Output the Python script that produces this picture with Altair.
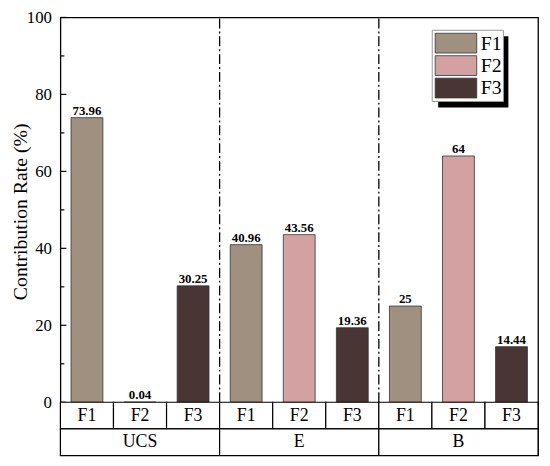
import altair as alt
import pandas as pd

groups = ["UCS", "E", "B"]
factors = ["F1", "F2", "F3"]
values = [73.96, 0.04, 30.25, 40.96, 43.56, 19.36, 25, 64, 14.44]
labels = ["73.96", "0.04", "30.25", "40.96", "43.56", "19.36", "25", "64", "14.44"]
colors = ["#A09080", "#D4A1A3", "#4A3535"]
y_ticks = [0, 20, 40, 60, 80, 100]
y_minor = [10, 30, 50, 70, 90]

FONT = "Liberation Serif"
ROW = 6.92  # height of one row of the category table, in y units

rows = []
for gi, g in enumerate(groups):
    for fi, f in enumerate(factors):
        i = gi * 3 + fi
        rows.append({"group": g, "factor": f, "idx": i, "value": values[i], "label": labels[i]})
df = pd.DataFrame(rows)

xs = alt.Scale(domain=[0, 9], nice=False, zero=False)
ys = alt.Scale(domain=[-2 * ROW, 100], nice=False, zero=False)

base = alt.Chart(df).transform_calculate(x0="datum.idx + 0.2", x1="datum.idx + 0.8")

bars = base.mark_bar(stroke="#333333", strokeWidth=0.8).encode(
    x=alt.X("x0:Q", scale=xs, axis=None),
    x2="x1:Q",
    y=alt.Y("value:Q", scale=ys, axis=alt.Axis(
        values=y_ticks, tickSize=0, domain=False, grid=False,
        labelFont=FONT, labelFontSize=17, labelColor="black", labelPadding=9,
        title="Contribution Rate (%)", titleFont=FONT, titleFontSize=20,
        titleFontWeight="normal", titleColor="black",
        titleX=-34, titleY=196, titleBaseline="alphabetic")),
    y2=alt.datum(0),
    color=alt.Color("factor:N", scale=alt.Scale(domain=factors, range=colors), legend=None),
)

texts = base.transform_calculate(xc="datum.idx + 0.5").mark_text(
    font=FONT, fontSize=13, fontWeight="bold", dy=-7, color="black"
).encode(
    x=alt.X("xc:Q", scale=xs),
    y=alt.Y("value:Q", scale=ys),
    text="label:N",
)

div_df = pd.DataFrame({"x": [3, 6], "y0": [0, 0], "y1": [100, 100]})
dividers = alt.Chart(div_df).mark_rule(color="black", strokeWidth=1.3, strokeDash=[10, 3, 2, 3]).encode(
    x=alt.X("x:Q", scale=xs), y=alt.Y("y0:Q", scale=ys), y2="y1:Q"
)

major_df = pd.DataFrame({"t": y_ticks})
minor_df = pd.DataFrame({"t": y_minor})
major = alt.Chart(major_df).mark_rule(color="black", strokeWidth=1.2).encode(
    y=alt.Y("t:Q", scale=ys), x=alt.value(0), x2=alt.value(6))
minor = alt.Chart(minor_df).mark_rule(color="black", strokeWidth=1.2).encode(
    y=alt.Y("t:Q", scale=ys), x=alt.value(0), x2=alt.value(4))

# bottom two-level category table
cells = []
for gi, g in enumerate(groups):
    for fi, f in enumerate(factors):
        i = gi * 3 + fi
        cells.append({"a": i, "b": i + 1, "c": -ROW, "d": 0, "txt": f})
    cells.append({"a": gi * 3, "b": gi * 3 + 3, "c": -2 * ROW, "d": -ROW, "txt": g})
cdf = pd.DataFrame(cells)
cbase = alt.Chart(cdf)
crect = cbase.mark_rect(fill="white", stroke="black", strokeWidth=1.2).encode(
    x=alt.X("a:Q", scale=xs), x2="b:Q",
    y=alt.Y("c:Q", scale=ys), y2="d:Q")
ctext = cbase.transform_calculate(xm="(datum.a + datum.b) / 2", ym="(datum.c + datum.d) / 2").mark_text(
    font=FONT, fontSize=18, color="black", baseline="middle").encode(
    x=alt.X("xm:Q", scale=xs), y=alt.Y("ym:Q", scale=ys), text="txt:N")

# legend
leg_layers = []
leg_layers.append(alt.Chart(pd.DataFrame({"a": [0]})).mark_rect(color="black").encode(
    x=alt.value(382), x2=alt.value(453), y=alt.value(19), y2=alt.value(91)))
leg_layers.append(alt.Chart(pd.DataFrame({"a": [0]})).mark_rect(fill="white", stroke="#999999", strokeWidth=1).encode(
    x=alt.value(376), x2=alt.value(448), y=alt.value(13), y2=alt.value(85)))
for i, f in enumerate(factors):
    ytop = 16 + i * 22.7
    d = pd.DataFrame({"name": [f]})
    leg_layers.append(alt.Chart(d).mark_rect(fill=colors[i], stroke="#333333", strokeWidth=0.8).encode(
        x=alt.value(379), x2=alt.value(421), y=alt.value(ytop), y2=alt.value(ytop + 20)))
    leg_layers.append(alt.Chart(d).mark_text(font=FONT, fontSize=20, align="left", baseline="middle", color="black").encode(
        x=alt.value(425), y=alt.value(ytop + 10.5), text="name:N"))

chart = alt.layer(bars, texts, dividers, major, minor, crect, ctext, *leg_layers).properties(
    width=483, height=443,
    autosize=alt.AutoSizeParams(type="none"),
    padding={"left": 53, "top": 7, "right": 4, "bottom": 4},
).configure_view(stroke="black", strokeWidth=1.3)

chart.save("out.html", embed_options={"renderer": "svg", "actions": False})
